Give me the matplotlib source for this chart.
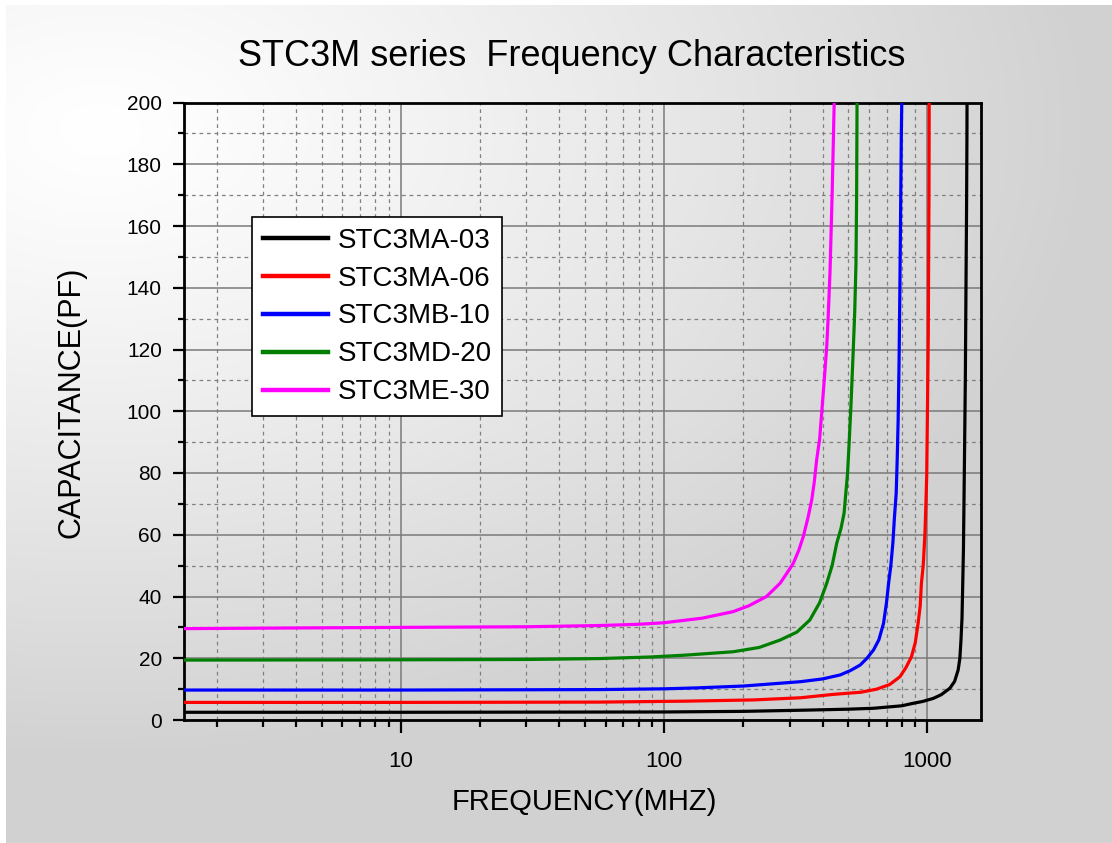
import numpy as np
import matplotlib
matplotlib.use("Agg")
import matplotlib.pyplot as plt
from matplotlib.ticker import FixedLocator, LogLocator, NullFormatter, MultipleLocator

plt.rcParams['font.family'] = ['Liberation Sans', 'DejaVu Sans']

# ---- data (frequency in MHz, capacitance in pF) ----
series_names = ["STC3MA-03", "STC3MA-06", "STC3MB-10", "STC3MD-20", "STC3ME-30"]
series_colors = ["#000000", "#ff0000", "#0000ff", "#007f00", "#ff00ff"]

f_ma03 = [1.5, 10, 100, 200, 348, 500, 625, 800, 883, 960, 1054, 1130, 1219, 1270, 1310, 1330, 1343, 1355,
          1363, 1372, 1379, 1386, 1395, 1403, 1410, 1415, 1416]
c_ma03 = [2.5, 2.5, 2.6, 2.8, 3.2, 3.5, 3.8, 4.6, 5.4, 6.0, 7.0, 8.2, 10.3, 12.5, 16.2, 20.0, 25.9, 33.0,
          43.2, 55.0, 71.3, 88.0, 110, 140, 165, 190, 200]

f_ma06 = [1.5, 10, 57, 120, 218, 330, 440, 560, 643, 720, 787, 830, 871, 900, 923, 940, 950, 965,
          980, 988, 995, 1000, 1009, 1012, 1015, 1017]
c_ma06 = [5.7, 5.7, 5.8, 6.1, 6.5, 7.2, 8.3, 9.0, 10.0, 11.5, 14.0, 17.0, 20.5, 25.0, 31.3, 37.0, 44.3, 50.0,
          60.5, 70.0, 78.8, 95.0, 125, 150, 170, 200]

f_mb10 = [1.5, 10, 57, 100, 133, 200, 329, 400, 467, 510, 556, 590, 625, 655, 682, 700, 713, 727, 740,
          750, 762, 769, 775, 781, 787, 792, 797, 800]
c_mb10 = [9.7, 9.7, 9.85, 10.1, 10.4, 11.0, 12.4, 13.3, 14.6, 16.0, 17.8, 20.0, 22.7, 26.0, 31.3, 38.0, 44.3, 50.0, 57.3,
          65.4, 73.5, 85.0, 97.0, 115, 140, 165, 190, 200]

f_md20 = [1.5, 10, 30, 57, 88.5, 120, 183, 230, 276, 320, 358, 390, 415, 435, 453, 470, 483, 498,
          505, 513, 524, 530, 536, 539, 541]
c_md20 = [19.4, 19.5, 19.6, 19.9, 20.4, 21.0, 22.1, 23.5, 25.9, 28.5, 32.4, 38.0, 44.3, 50.0, 57.3, 62.0, 67.0, 80.0,
          90.0, 102, 121, 132, 148, 170, 200]

f_me30 = [1.5, 10, 30, 57, 80, 100, 140, 183, 210, 245, 276, 290, 310, 325, 338, 353, 364, 372, 380,
          390, 397, 406, 415, 420, 427, 435, 443]
c_me30 = [29.6, 30.0, 30.2, 30.6, 31.0, 31.5, 33.0, 35.1, 37.0, 40.0, 44.3, 47.0, 50.8, 55.0, 59.4, 65.9, 71.3, 77.0, 84.3,
          91.0, 99.4, 110, 121, 130, 145, 170, 200]

x_ticks = [10, 100, 1000]
x_tick_labels = ["10", "100", "1000"]
y_ticks = [0, 20, 40, 60, 80, 100, 120, 140, 160, 180, 200]

title = "STC3M series  Frequency Characteristics"
xlabel = "FREQUENCY(MHZ)"
ylabel = "CAPACITANCE(PF)"

W, H = 1112, 843
fig = plt.figure(figsize=(W / 100, H / 100), dpi=100)

# ---- background gradient ----
bg = fig.add_axes([0, 0, 1, 1], zorder=-10)
yy, xx = np.mgrid[0:H, 0:W]
d = np.sqrt(((xx - 100) / 950.0) ** 2 + ((yy - 130) / 600.0) ** 2)
b = 1 - 0.17 * np.clip(d, 0, 1.05) ** 1.2
b[:5, :] = 1.0
b[:, :6] = 1.0
bg.imshow(np.dstack([b, b, b]), aspect='auto', extent=[0, 1, 0, 1], origin='upper', interpolation='bilinear')
bg.set_axis_off()

# ---- main axes ----
ax = fig.add_axes([184 / W, 1 - 720 / H, (981 - 184) / W, (720 - 102.5) / H])
ax.set_facecolor('none')
ax.set_xscale('log')
ax.set_xlim(1.5, 1600)
ax.set_ylim(0, 200)

data = [(f_ma03, c_ma03), (f_ma06, c_ma06), (f_mb10, c_mb10), (f_md20, c_md20), (f_me30, c_me30)]
for (f, c), name, col in zip(data, series_names, series_colors):
    ax.plot(f, c, color=col, lw=2.3, label=name, zorder=3)

ax.xaxis.set_major_locator(FixedLocator(x_ticks))
ax.set_xticklabels(x_tick_labels)
ax.xaxis.set_minor_locator(LogLocator(base=10, subs=np.arange(2, 10)))
ax.xaxis.set_minor_formatter(NullFormatter())
ax.set_yticks(y_ticks)
ax.yaxis.set_minor_locator(MultipleLocator(10))

ax.grid(which='major', color='#7a7a7a', lw=1.1, ls='-', zorder=1)
ax.grid(which='minor', color='#808080', lw=0.9, ls=(0, (3, 3)), zorder=1)
ax.set_axisbelow(True)

for s in ax.spines.values():
    s.set_linewidth(2.0)
    s.set_color('black')

ax.tick_params(axis='both', which='major', direction='out', width=1.6, colors='black')
ax.tick_params(axis='x', which='major', length=9, pad=13, labelsize=16)
ax.tick_params(axis='x', which='minor', length=5, width=1.6, direction='out')
ax.tick_params(axis='y', which='major', length=8, pad=8, labelsize=15)
ax.tick_params(axis='y', which='minor', length=4, width=1.6, direction='out')

# ---- texts ----
fig.text(571.5 / W, 1 - 66 / H, title, ha='center', va='baseline', fontsize=26)
fig.text(584 / W, 1 - 810 / H, xlabel, ha='center', va='baseline', fontsize=21)
fig.text(72 / W, 1 - 402 / H, ylabel, ha='center', va='center', rotation=90, fontsize=22)

leg = ax.legend(loc='upper left', bbox_to_anchor=(252 / W, 1 - 217 / H), bbox_transform=fig.transFigure,
                borderaxespad=0, fontsize=20, frameon=True, fancybox=False, shadow=False,
                handlelength=2.34, handletextpad=0.36, borderpad=0.38, labelspacing=0.43)
leg.get_frame().set_edgecolor('black')
leg.get_frame().set_linewidth(1.2)
leg.get_frame().set_facecolor('white')
leg.get_frame().set_alpha(1)
for line in leg.get_lines():
    line.set_linewidth(3.2)

fig.savefig("out.png", dpi=100)
